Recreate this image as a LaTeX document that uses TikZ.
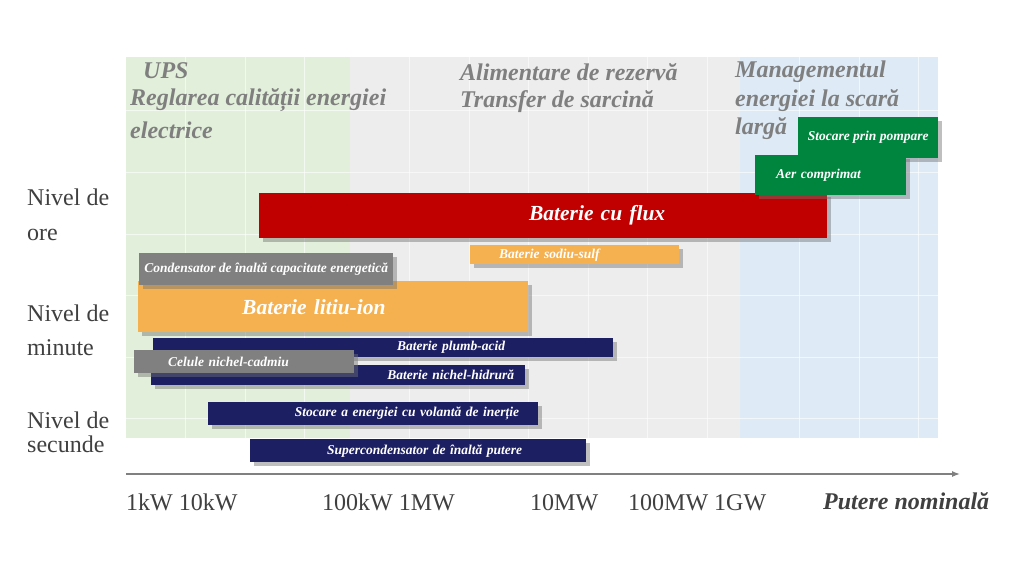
\documentclass[tikz,border=0pt]{standalone}
\usepackage{fontspec}
\setmainfont{Liberation Serif}
\usepackage{xcolor}
\usetikzlibrary{shadows, arrows.meta}

\definecolor{greenbg}{HTML}{E2EFDA}
\definecolor{graybg}{HTML}{EDEDED}
\definecolor{bluebg}{HTML}{DEEBF7}
\definecolor{headgray}{HTML}{7F7F7F}
\definecolor{labelgray}{HTML}{404040}
\definecolor{redbar}{HTML}{C00000}
\definecolor{orangebar}{HTML}{F5B050}
\definecolor{navybar}{HTML}{1D1F63}
\definecolor{graybar}{HTML}{808080}
\definecolor{greenbar}{HTML}{00853E}

\begin{document}
\begin{tikzpicture}[
        x=1pt, y=-1pt,
        gridline/.style={white, line width=1pt, opacity=0.6},
        heading/.style={anchor=north west, align=left, inner sep=0pt, text=headgray, font=\fontsize{24}{28.5}\selectfont\bfseries\itshape},
        level/.style={anchor=north west, align=left, inner sep=0pt, text=labelgray},
        bar/.style={anchor=north west, inner ysep=0pt, text=white, font=\fontsize{13.5}{15}\selectfont\bfseries\itshape,
            drop shadow={shadow xshift=3.5pt, shadow yshift=-3.5pt, fill=black!55, opacity=0.45}},
        bigbar/.style={font=\fontsize{21.5}{24}\selectfont\bfseries\itshape},
        tick/.style={anchor=base west, inner sep=0pt, text=labelgray, font=\fontsize{24}{26}\selectfont},
        axis/.style={draw=gray, line width=1.3pt, -{Latex[length=8pt, width=6pt]}}
    ]
        \useasboundingbox (0,0) rectangle (1024,576);
        \fill[white] (0,0) rectangle (1024,576);

        % Application zones
        \fill[greenbg] (126,57) rectangle (350,438);
        \fill[graybg] (350,57) rectangle (740,438);
        \fill[bluebg] (740,57) rectangle (938,438);
        \foreach \gx in {185.5,245,304.5,409.5,469,528.5,588,647.5,707,799.5,859,918.5}
            \draw[gridline] (\gx,57) -- (\gx,438);
        \foreach \gy in {110,172,234,295,357,418}
            \draw[gridline] (126,\gy) -- (938,\gy);

        % Zone headings
        \node[heading, font=\fontsize{24}{27}\selectfont\bfseries\itshape] (ups) at (130,62)
            {\hspace*{13pt}UPS\\Reglarea calității energiei\\[6pt]electrice};
        \node[heading, font=\fontsize{24}{27}\selectfont\bfseries\itshape] (backup) at (460,63) {Alimentare de rezervă\\Transfer de sarcină};
        \node[heading] (mgmt) at (735,61) {Managementul\\energiei la scară\\largă};

        % Discharge time levels
        \node[level, font=\fontsize{24}{35.5}\selectfont] (hours) at (27,188.6) {Nivel de\\ore};
        \node[level, font=\fontsize{24}{34.5}\selectfont] (minutes) at (27,304.6) {Nivel de\\minute};
        \node[level, font=\fontsize{24}{24}\selectfont] (seconds) at (27,411.6) {Nivel de\\secunde};

        % Technologies
        \node[bar, bigbar, fill=redbar, minimum height=45pt, inner xsep=162pt, text width=244pt, align=right] (flux) at (259,193) {Baterie cu flux};
        \node[bar, fill=orangebar, minimum height=19pt, inner xsep=29pt, text width=151pt, align=left] (nas) at (470,245) {Baterie sodiu-sulf};
        \node[bar, bigbar, fill=orangebar, minimum height=51pt, inner xsep=104pt, text width=182pt, align=left] (liion) at (138,281) {Baterie litiu-ion};
        \node[bar, fill=graybar, minimum width=254pt, minimum height=32pt] (supercap) at (139,253) {Condensator de înaltă capacitate energetică};
        \node[bar, fill=navybar, minimum height=19pt, inner xsep=108pt, text width=244pt, align=right] (leadacid) at (153,338) {Baterie plumb-acid};
        \node[bar, fill=navybar, minimum height=20pt, inner xsep=11pt, text width=352pt, align=right] (nimh) at (151,365) {Baterie nichel-hidrură};
        \node[bar, fill=graybar, minimum height=23pt, inner xsep=34pt, text width=152pt, align=left] (nicd) at (134,350) {Celule nichel-cadmiu};
        \node[bar, fill=navybar, minimum height=23pt, inner xsep=19pt, text width=292pt, align=right] (flywheel) at (208,402) {Stocare a energiei cu volantă de inerție};
        \node[bar, fill=navybar, minimum height=23pt, inner xsep=64pt, text width=208pt, align=right] (powercap) at (250,439) {Supercondensator de înaltă putere};
        \node[bar, fill=greenbar, minimum width=140pt, minimum height=41pt] (hydro) at (798,117) {Stocare prin pompare};
        \node[bar, fill=greenbar, minimum height=40pt, inner xsep=21pt, text width=109pt, align=left] (caes) at (755,155) {Aer comprimat};

        % Power axis
        \coordinate (origin) at (126,474);
        \coordinate (axisend) at (960,474);
        \draw[axis] (origin) -- (axisend);
        \node[tick] (kw) at (126,510) {1kW 10kW};
        \node[tick] (mw) at (322,510) {100kW 1MW};
        \node[tick] (tenmw) at (530,510) {10MW};
        \node[tick] (gw) at (628,510) {100MW 1GW};
        \node[tick, font=\fontsize{24}{26}\selectfont\bfseries\itshape] (power) at (823,509) {Putere nominală};
    \end{tikzpicture}
\end{document}
